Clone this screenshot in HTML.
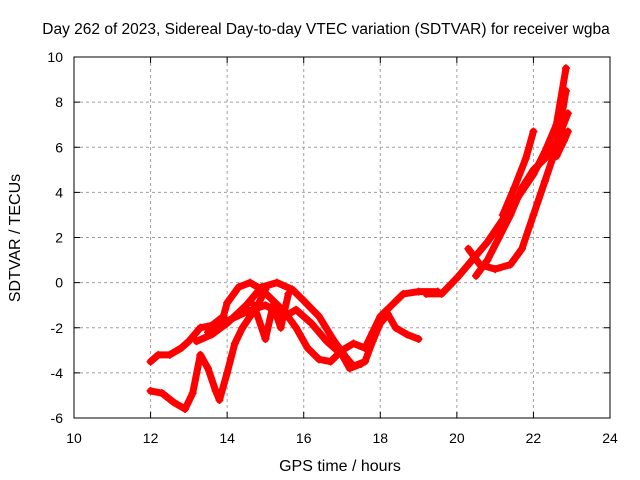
<!DOCTYPE html>
<html><head><meta charset="utf-8"><style>
body{margin:0;background:#fff;}
svg{display:block;font-family:"Liberation Sans",sans-serif;font-size:14px;}
</style></head><body>
<svg id="chart" width="640" height="480">
<text x="326" y="34" text-anchor="middle" style="font-size:15.5px">Day 262 of 2023, Sidereal Day-to-day VTEC variation (SDTVAR) for receiver wgba</text>
<text x="340" y="471" text-anchor="middle" style="font-size:16px">GPS time / hours</text>
<text x="0" y="0" transform="translate(20,238) rotate(-90)" text-anchor="middle" style="font-size:16px">SDTVAR / TECUs</text>
<g id="grid"></g><g id="ticks"></g><g id="series"></g>
<rect x="74" y="57" width="536" height="361" fill="none" stroke="#000" stroke-width="1"/>
</svg>
<script>
const xTicks=[10,12,14,16,18,20,22,24];
const yTicks=[-6,-4,-2,0,2,4,6,8,10];
const seriesA=[[12.0,-3.5],[12.2,-3.2],[12.5,-3.2],[12.8,-2.9],[13.0,-2.6],[13.3,-2.0],[13.6,-1.9],[13.9,-1.5],[14.0,-0.9],[14.3,-0.2],[14.6,0.0],[14.9,-0.3],[15.2,-0.8],[15.5,-1.3],[15.8,-2.0],[16.1,-2.9],[16.4,-3.4],[16.7,-3.5],[17.0,-3.0],[17.3,-2.7],[17.6,-2.9],[17.8,-2.2],[18.0,-1.5],[18.3,-1.0],[18.6,-0.5],[19.0,-0.4],[19.5,-0.4]];
const seriesB=[[13.2,-2.6],[13.6,-2.3],[14.0,-1.8],[14.5,-1.0],[14.9,-0.2],[15.3,0.0],[15.7,-0.3],[16.0,-0.8],[16.4,-1.5],[16.8,-2.6],[17.1,-3.3],[17.3,-3.7],[17.6,-3.5],[17.8,-2.6],[18.0,-1.8],[18.2,-1.4],[18.4,-2.0],[18.7,-2.3],[19.0,-2.5]];
const seriesC=[[13.5,-2.2],[14.0,-1.7],[14.5,-1.3],[15.0,-1.0],[15.5,-1.5],[15.8,-1.2],[16.2,-1.8],[16.6,-2.6],[17.0,-3.2],[17.2,-3.8],[17.5,-3.6]];
const seriesD=[[12.0,-4.8],[12.3,-4.9],[12.6,-5.3],[12.9,-5.6],[13.1,-4.9],[13.3,-3.2],[13.5,-3.8],[13.7,-4.8],[13.8,-5.2],[14.0,-4.0],[14.2,-2.7],[14.4,-2.0],[14.6,-1.5],[14.8,-1.0],[15.0,-0.3]];
const seriesE=[[14.7,-1.0],[15.0,-2.5],[15.2,-1.0],[15.4,-2.0],[15.6,-0.5]];
const seriesF=[[19.2,-0.5],[19.6,-0.5],[20.0,0.2],[20.4,1.0],[20.8,1.8],[21.2,2.8],[21.6,3.8],[22.0,4.8],[22.3,5.8],[22.6,7.0],[22.85,9.5]];
const seriesG=[[20.3,1.5],[20.6,0.8],[21.0,0.6],[21.4,0.8],[21.7,1.5],[22.0,3.0],[22.3,4.5],[22.6,6.0],[22.85,8.5]];
const seriesH=[[20.5,0.3],[20.8,1.0],[21.1,2.0],[21.4,3.0],[21.7,4.2],[22.0,5.0],[22.3,5.5],[22.6,6.2],[22.9,7.5]];
const seriesI=[[21.2,3.0],[21.5,4.2],[21.8,5.5],[22.0,6.7]];
const seriesJ=[[22.6,5.6],[22.8,6.3],[22.9,6.7]];
const allSeries=[seriesA,seriesB,seriesC,seriesD,seriesE,seriesF,seriesG,seriesH,seriesI,seriesJ];
const NS="http://www.w3.org/2000/svg";
const X=v=>74+(v-10)/14*536;
const Y=v=>418-(v+6)/16*361;
function mk(tag,attrs,parent){const e=document.createElementNS(NS,tag);for(const k in attrs)e.setAttribute(k,attrs[k]);parent.appendChild(e);return e;}
const grid=document.getElementById('grid'),ticks=document.getElementById('ticks'),ser=document.getElementById('series');
xTicks.forEach(t=>{
  if(t>10&&t<24){const g=mk('line',{x1:X(t),x2:X(t),y1:57,y2:418,stroke:'#a0a0a0','stroke-dasharray':'3,3'},grid);
  
  }
  mk('line',{x1:X(t),x2:X(t),y1:418,y2:412,stroke:'#000'},ticks);
  mk('line',{x1:X(t),x2:X(t),y1:57,y2:63,stroke:'#000'},ticks);
  const l=mk('text',{x:X(t),y:443,'text-anchor':'middle'},ticks);l.textContent=t;
  
  
});
yTicks.forEach(t=>{
  if(t>-6&&t<10){const g=mk('line',{x1:74,x2:610,y1:Y(t),y2:Y(t),stroke:'#a0a0a0','stroke-dasharray':'3,3'},grid);
  
  }
  mk('line',{x1:74,x2:80,y1:Y(t),y2:Y(t),stroke:'#000'},ticks);
  mk('line',{x1:610,x2:604,y1:Y(t),y2:Y(t),stroke:'#000'},ticks);
  const l=mk('text',{x:63,y:Y(t)+5,'text-anchor':'end'},ticks);l.textContent=t;
  
  
});
allSeries.forEach((s,i)=>{
  const p=mk('polyline',{points:s.map(d=>X(d[0])+','+Y(d[1])).join(' '),fill:'none',stroke:'#ff0000','stroke-width':7,'stroke-linejoin':'round','stroke-linecap':'round'},ser);
  
  
  s.forEach(d=>{
    const m=mk('path',{d:`M${X(d[0])-4},${Y(d[1])}h8M${X(d[0])},${Y(d[1])-4}v8`,stroke:'#ff0000','stroke-width':1.5},ser);
    
    
  });
});
</script>
</body></html>
